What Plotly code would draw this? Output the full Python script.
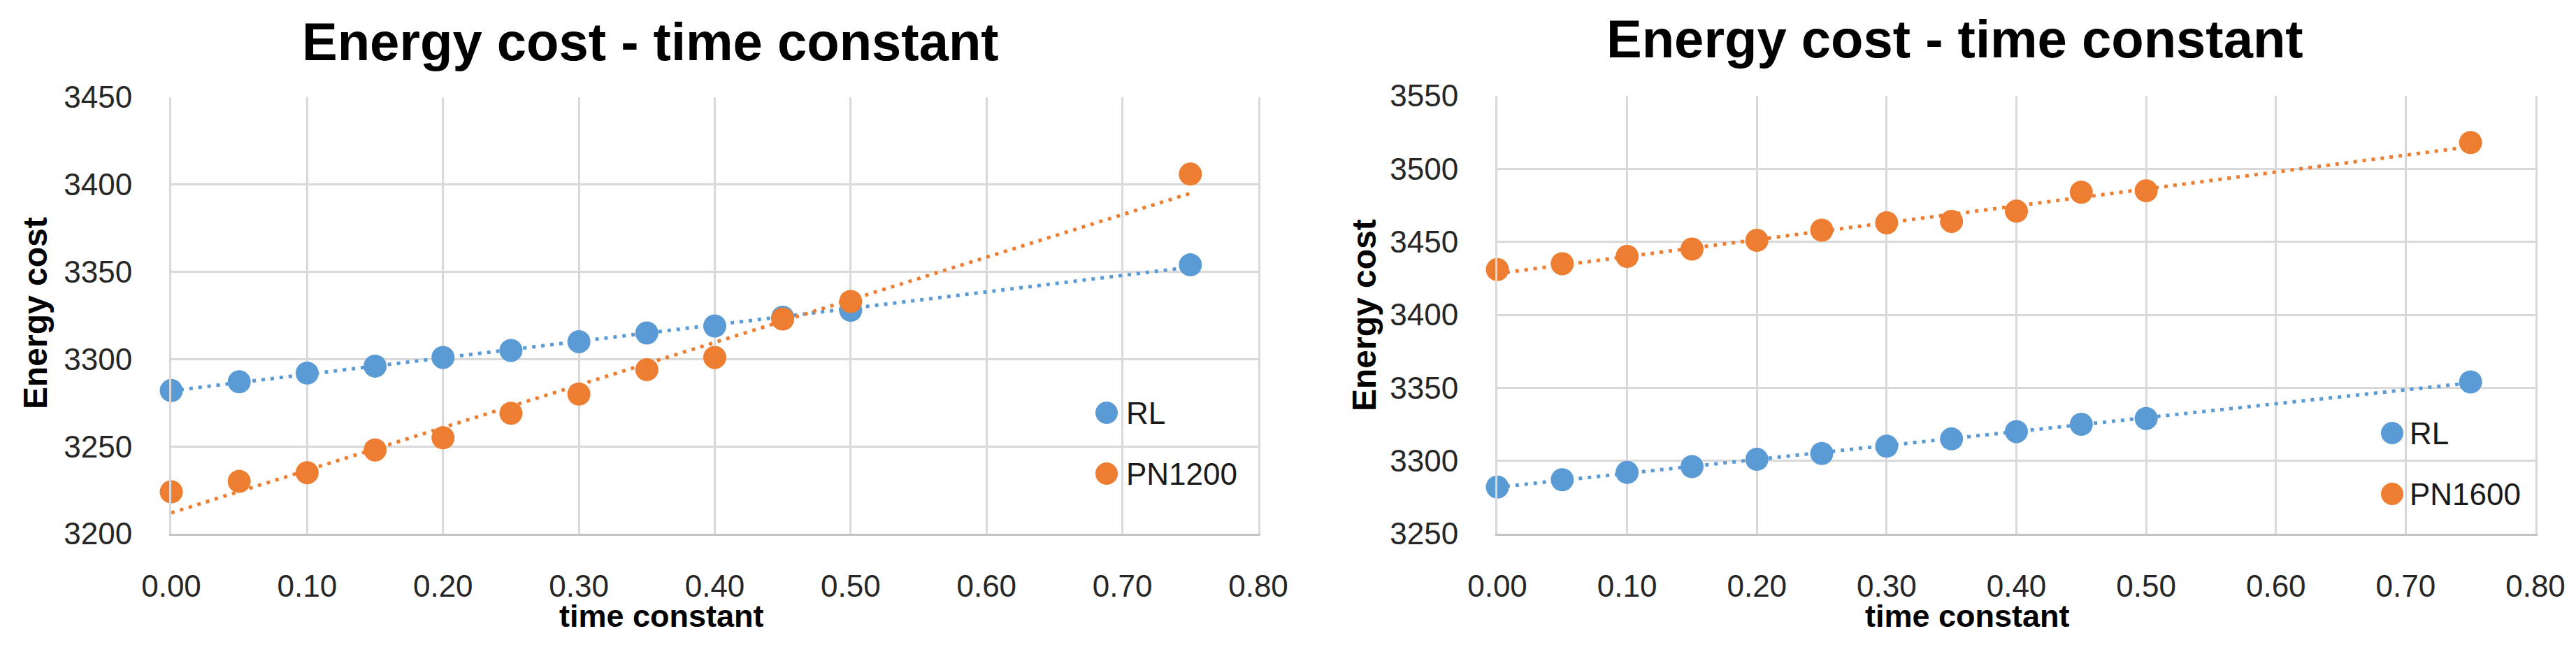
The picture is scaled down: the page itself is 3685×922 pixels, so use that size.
import numpy as np
import plotly.graph_objects as go

# ---------------- data ----------------
time_constant = [0.00, 0.05, 0.10, 0.15, 0.20, 0.25, 0.30, 0.35, 0.40, 0.45, 0.50, 0.75]

rl_left = [3282, 3287, 3292, 3296, 3301, 3305, 3310, 3315, 3319, 3324, 3328, 3354]
pn1200 = [3224, 3230, 3235, 3248, 3255, 3269, 3280, 3294, 3301, 3323, 3333, 3406]

rl_right = [3282, 3287, 3292, 3296, 3301, 3305, 3310, 3315, 3320, 3325, 3329, 3354]
pn1600 = [3431, 3435, 3440, 3445, 3451, 3458, 3463, 3464, 3471, 3484, 3485, 3518]

x_ticks = [0.0, 0.1, 0.2, 0.3, 0.4, 0.5, 0.6, 0.7, 0.8]
y_ticks_left = [3200, 3250, 3300, 3350, 3400, 3450]
y_ticks_right = [3250, 3300, 3350, 3400, 3450, 3500, 3550]

series_left = [("RL", rl_left, "#5B9BD5"), ("PN1200", pn1200, "#ED7D31")]
series_right = [("RL", rl_right, "#5B9BD5"), ("PN1600", pn1600, "#ED7D31")]

title_text = "Energy cost - time constant"
x_title = "time constant"
y_title = "Energy cost"

# ---------------- figure ----------------
# the page body has an 8px default margin; size the figure so it fits the window
OFF = 8
W, H = 3685 - 2 * OFF, 922 - 2 * OFF
fig = go.Figure()

def px_x(v):
    return (v - OFF) / W

def px_y(v):
    return 1 - (v - OFF) / H

def add_series(series, xa, ya):
    xs = np.array(time_constant)
    for name, vals, color in series:
        slope, icpt = np.polyfit(xs, np.array(vals), 1)
        tx = np.array([xs.min(), xs.max()])
        fig.add_trace(go.Scatter(
            x=tx, y=slope * tx + icpt, mode="lines",
            line=dict(color=color, width=5, dash="5px,8px"),
            xaxis=xa, yaxis=ya, showlegend=False, hoverinfo="skip"))
        fig.add_trace(go.Scatter(
            x=time_constant, y=vals, mode="markers", name=name,
            marker=dict(color=color, size=33, line=dict(width=0)),
            xaxis=xa, yaxis=ya, showlegend=False, cliponaxis=False))

add_series(series_left, "x", "y")
add_series(series_right, "x2", "y2")

tick_font = dict(family="Liberation Sans, Arial, sans-serif", size=44, color="#262626")
grid = "#d9d9d9"

def xaxis_cfg(dom, anchor):
    return dict(domain=dom, anchor=anchor, range=[0, 0.8], tickvals=x_ticks,
                tickformat=".2f", showgrid=True, gridcolor=grid, gridwidth=3,
                zeroline=False, showline=True, linecolor="#c4c4c4", linewidth=3,
                ticks="", tickfont=tick_font, ticklabelstandoff=34,
                automargin=False, fixedrange=True)

def yaxis_cfg(dom, anchor, rng, vals):
    return dict(domain=dom, anchor=anchor, range=rng, tickvals=vals,
                showgrid=True, gridcolor=grid, gridwidth=3, zeroline=False,
                showline=True, linecolor=grid, linewidth=3, mirror=True,
                ticks="", tickfont=tick_font, ticklabelstandoff=44,
                automargin=False, fixedrange=True)

fig.update_layout(
    width=W, height=H,
    margin=dict(l=0, r=0, t=0, b=0, autoexpand=False),
    paper_bgcolor="white", plot_bgcolor="white",
    showlegend=False,
    xaxis=xaxis_cfg([px_x(245), px_x(1800)], "y"),
    yaxis=yaxis_cfg([px_y(763), px_y(139)], "x", [3200, 3450], y_ticks_left),
    xaxis2=xaxis_cfg([px_x(2142), px_x(3627)], "y2"),
    yaxis2=yaxis_cfg([px_y(763), px_y(137)], "x2", [3250, 3550], y_ticks_right),
)

ann = []
shapes = []
font_family = "Liberation Sans, Arial, sans-serif"

def text(x, y, s, size, angle=0, xanchor="center", bold=False, color="black"):
    ann.append(dict(x=px_x(x), y=px_y(y), xref="paper", yref="paper",
                    text=("<b>%s</b>" % s) if bold else s, showarrow=False,
                    xanchor=xanchor, yanchor="middle", textangle=angle,
                    borderpad=0,
                    font=dict(family=font_family, size=size, color=color)))

# titles
text(930, 60, title_text, 76, bold=True)
text(2796, 55, title_text, 76, bold=True)
# axis titles
text(946, 880, x_title, 45, bold=True)
text(2814, 880, x_title, 45, bold=True)
text(50, 448, y_title, 48, angle=-90, bold=True)
text(1952, 451, y_title, 48, angle=-90, bold=True)

# manual legends
def legend(series, mx, tx, ys):
    for (name, _, color), yy in zip(series, ys):
        shapes.append(dict(type="circle", xref="paper", yref="paper",
                           xsizemode="pixel", ysizemode="pixel",
                           xanchor=px_x(mx), yanchor=px_y(yy),
                           x0=-16, x1=16, y0=-16, y1=16,
                           fillcolor=color, line=dict(width=0)))
        text(tx, yy, name, 44, xanchor="left", color="#1a1a1a")

legend(series_left, 1583, 1610, [590, 677])
legend(series_right, 3422, 3446, [619, 706])

fig.update_layout(annotations=ann, shapes=shapes)
fig.write_html("out.html")
